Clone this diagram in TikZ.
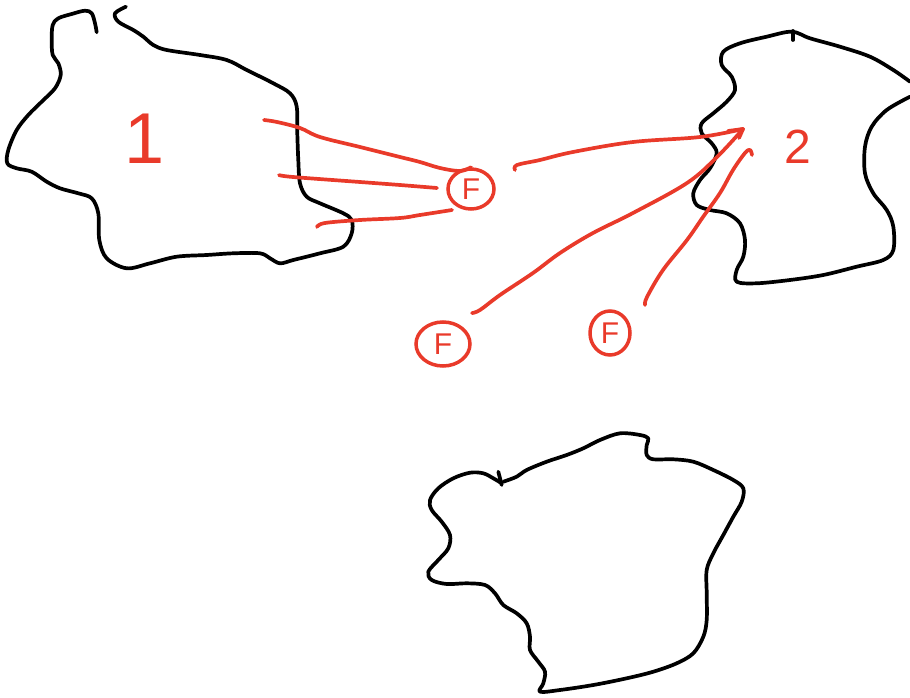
\documentclass[tikz,border=0pt]{standalone}
\usepackage{fontspec}
\setsansfont{Liberation Sans}
\usetikzlibrary{shapes.geometric,arrows.meta}
\definecolor{pen}{RGB}{233,58,42}
\begin{document}
\begin{tikzpicture}[x=1pt,y=-1pt,
  ink/.style={line width=3.7pt, line cap=round, line join=round},
  blob/.style={ink, draw=black},
  redline/.style={ink, draw=pen},
  fcirc/.style={draw=pen, line width=3.5pt, ellipse, inner sep=0pt, text=pen,
    font=\sffamily\fontsize{30}{30}\selectfont},
  lbl/.style={text=pen, inner sep=0pt}]
\useasboundingbox (0,0) rectangle (910,698);

% ---- blob 1 ----
\draw[blob] plot[smooth, tension=0.55] coordinates {
(96.7,32.3) (95,23.3) (91.7,13.3) (85,10.7) (71.7,14) (58.3,18.3) (52.7,25) (51.7,40) (52.7,55) (58.3,63.3) (60.7,75) (55,88.3) (41.7,101.7) (28.3,115) (16.7,130) (8.3,150) (7.3,163.3) (16.7,168.3) (31.7,171.7) (46.7,181.7) (60,188.3) (78.3,193.3) (91.7,198.3) (98.3,213.3) (99.3,240) (106.7,258.3) (126.7,268.3) (150,263.3) (176.7,256.7) (206.7,255) (233.3,253.3) (260,253.3) (270,258.3) (280,263.3) (293.3,260) (320,253.3) (343.3,246.7) (351.7,233.3) (351.7,220) (343.3,213.3) (320,203.3) (306.7,196.7) (300,183.3) (298.3,160) (297.3,133.3) (296.7,106.7) (290,93.3) (273.3,83.3) (246.7,70) (226.7,60) (200,55) (166.7,50) (153.3,45) (143.3,36.7) (133.3,30) (118.3,21.7) (115,13.3) (126,6.7)};

% ---- blob 2 ----
\draw[blob] plot[smooth, tension=0.55] coordinates {
(910,96.7) (886.7,110) (871.7,126.7) (865,146.7) (865,173.3) (873.3,193.3) (886.7,210) (893.3,226.7) (893.3,250) (883.3,260) (856.7,266.7) (823.3,275) (790,280) (756.7,283.3) (736.7,281.7) (736.7,270) (743.3,256.7) (745,240) (740,223.3) (726.7,213.3) (710,210) (696.7,205) (693.3,193.3) (700,180) (710,168.3) (716.7,153.3) (711.7,143.3) (701.7,133.3) (701.7,123.3) (713.3,113.3) (726.7,101.7) (735,90) (731.7,76.7) (721.7,65) (723.3,51.7) (740,43.3) (766.7,36.7) (791.7,31.7) (810,38.3) (840,46.7) (870,56.7) (893.3,70) (910,81.7)};
\draw[blob] (793,31) -- (793,40);

% ---- blob 3 ----
\draw[blob] plot[smooth, tension=0.55] coordinates {
(501.7,483.3) (493.3,478.3) (483.3,473.3) (470,472.7) (453.3,478.3) (438.3,488.3) (430,500) (431.7,510) (441.7,521.7) (450,535) (448.3,548.3) (438.3,560) (428.3,571.7) (431.7,580) (446.7,584) (466.7,583.3) (485,585) (495,593.3) (503.3,605) (516.7,613.3) (526.7,623.3) (530,636.7) (530,650) (538.3,661.7) (545,671.7) (543.3,683.3) (540,691.7) (560,690) (593.3,685) (626.7,678.3) (653.3,671.7) (676.7,663.3) (693.3,653.3) (703.3,636.7) (706.7,620) (706.7,593.3) (706.7,570) (713.3,553.3) (723.3,535) (733.3,516.7) (741.7,501.7) (743.3,488.3) (733.3,480) (713.3,470) (693.3,461.7) (673.3,459.3) (653.3,459.3) (646.7,455) (646.7,445) (648.3,438.3) (640,435) (620,433.3) (600,440) (583.3,448.3) (566.7,455) (546.7,461.7) (526.7,470) (516.7,476.7) (503.3,481.7)};
\draw[blob] (498.3,471.7) -- (501.7,485);

% ---- labels ----
\node[lbl, font=\sffamily\fontsize{72}{72}\selectfont] (one) at (145,139) {1};
\node[lbl, font=\sffamily\fontsize{48}{48}\selectfont] (two) at (798,147) {2};

% ---- F circles ----
\node[fcirc, minimum width=46pt, minimum height=40pt] (f1) at (471,189) {F};
\node[fcirc, minimum width=54pt, minimum height=44pt] (f2) at (443,344) {F};
\node[fcirc, minimum width=40pt, minimum height=44pt] (f3) at (610,333) {F};

% ---- connector end points ----
\coordinate (a1) at (264,120);
\coordinate (a2) at (279,175);
\coordinate (a3) at (317,227);
\coordinate (t) at (743,129);
\coordinate (t3) at (752,155);

% ---- red connectors ----
\draw[redline] plot[smooth, tension=0.6] coordinates {
(a1) (277,122) (300,128) (320,137) (360,147) (400,157) (420,162) (440,168) (460,171) (f1.north)};
\draw[redline] plot[smooth, tension=0.6] coordinates {
(a2) (293,177) (360,182) (400,185) (437,188)};
\draw[redline] plot[smooth, tension=0.6] coordinates {
(a3) (325,223) (360,220) (400,218) (420,215) (452,210)};
\draw[redline] plot[smooth, tension=0.6] coordinates {
(515,170) (517,165) (540,160) (573,152) (633,142) (700,137) (t)};
\draw[redline] plot[smooth, tension=0.6] coordinates {
(472,313) (480,310) (500,295) (533,273) (560,253) (593,233) (633,213) (687,183) (717,157) (t)};
\draw[redline] (t) -- (739,138);
\draw[redline] (t) -- (728,131);
\draw[redline] plot[smooth, tension=0.6] coordinates {
(645,305) (647,297) (663,270) (687,240) (703,217) (720,193) (733,170) (745,153) (750,150) (t3)};
\end{tikzpicture}
\end{document}
